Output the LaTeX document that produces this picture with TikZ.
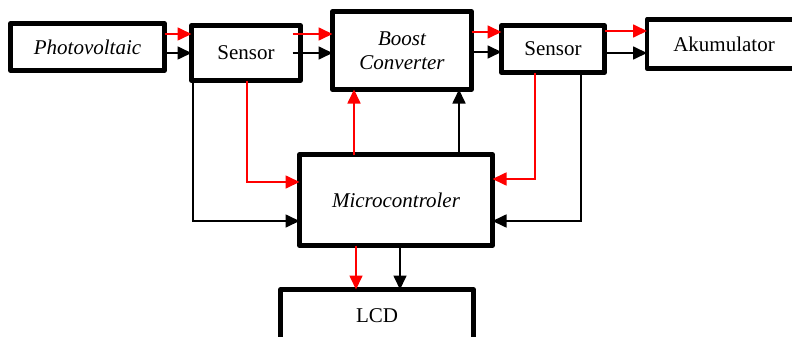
\documentclass[tikz,border=0pt]{standalone}
\usepackage{fontspec}
\setmainfont{Liberation Serif}
\usetikzlibrary{arrows.meta}
\begin{document}
\begin{tikzpicture}[x=1pt,y=-1pt,
  blk/.style={draw, line width=4.8pt, line join=round, outer sep=0pt, inner sep=0pt, align=center, font=\fontsize{21}{24}\selectfont},
  con/.style={line width=1.7pt, -{Triangle[length=14pt,width=13pt]}},
  rcon/.style={con, red}]
\clip (0,0) rectangle (792,337);
\fill[white] (0,0) rectangle (792,337);
\node[blk, minimum width=154pt, minimum height=47pt] (pv) at (87.5,47) {\itshape Photovoltaic};
\node[blk, minimum width=109pt, minimum height=55pt] (s1) at (246,53) {Sensor};
\node[blk, minimum width=139pt, minimum height=78pt] (bc) at (402,50.5) {\itshape Boost\\\itshape Converter};
\node[blk, minimum width=103pt, minimum height=47pt] (s2) at (553,49) {Sensor};
\node[blk, minimum width=154pt, minimum height=49pt] (ak) at (724,44) {Akumulator};
\node[blk, minimum width=193pt, minimum height=91pt] (mc) at (396,200) {\itshape Microcontroler};
\node[blk, minimum width=193pt, minimum height=60pt] (lcd) at (377,319.5) {};
\node[font=\fontsize{21}{24}\selectfont] (lcdt) at (377,316) {LCD};
% top row
\draw[rcon] (pv.east |- 0,34) -- (s1.west |- 0,34);
\draw[con] (pv.east |- 0,53) -- (s1.west |- 0,53);
\draw[rcon] ([xshift=-8pt]s1.east |- 0,34) -- (bc.west |- 0,34);
\draw[con] ([xshift=-8pt]s1.east |- 0,53) -- (bc.west |- 0,53);
\draw[rcon] (bc.east |- 0,32) -- (s2.west |- 0,32);
\draw[con] (bc.east |- 0,52) -- (s2.west |- 0,52);
\draw[rcon] (s2.east |- 0,31) -- (ak.west |- 0,31);
\draw[con] (s2.east |- 0,53) -- (ak.west |- 0,53);
% sensor 1 down
\draw[con] (s1.south -| 193,0) |- (mc.west |- 0,221);
\draw[rcon] (s1.south -| 247,0) |- (mc.west |- 0,182);
% boost up
\draw[rcon] (mc.north -| 354,0) -- (bc.south -| 354,0);
\draw[con] (mc.north -| 459,0) -- (bc.south -| 459,0);
% sensor 2 down
\draw[rcon] (s2.south -| 535,0) |- (mc.east |- 0,179);
\draw[con] (s2.south -| 581,0) |- (mc.east |- 0,221);
% micro to lcd
\draw[rcon] (mc.south -| 356,0) -- (lcd.north -| 356,0);
\draw[con] (mc.south -| 400,0) -- (lcd.north -| 400,0);
\end{tikzpicture}
\end{document}
